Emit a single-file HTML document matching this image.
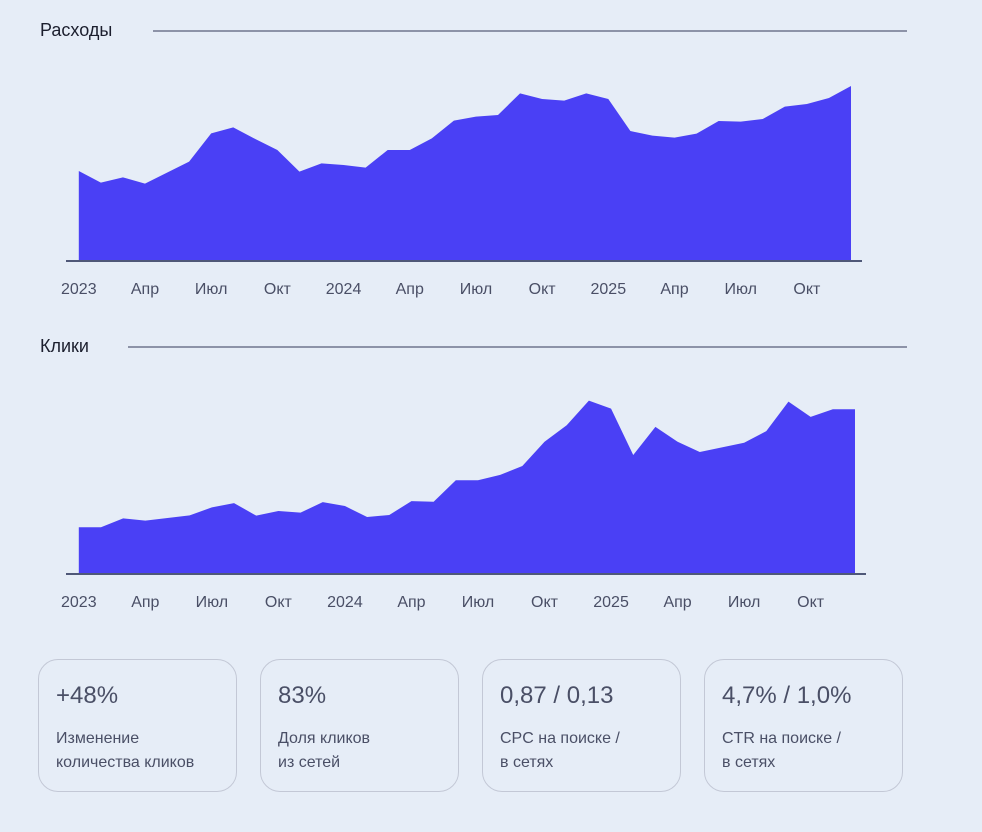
<!DOCTYPE html>
<html><head><meta charset="utf-8"><style>
body{margin:0;width:982px;height:832px;background:#e6edf7;font-family:"Liberation Sans","Noto Sans CJK SC",sans-serif;position:relative;overflow:hidden}
.t{position:absolute;font-size:18px;color:#1c1f2e}
.ln{position:absolute;height:2px;background:#8d93a8}
.card{position:absolute;top:659px;width:199px;height:133px;border:1px solid #c3c8d6;border-radius:20px;box-sizing:border-box;color:#4a4f66}
.big{position:absolute;left:17px;top:22px;font-size:24px}
.sm{position:absolute;left:17px;top:67px;font-size:16px;line-height:24px}
svg{position:absolute;left:0;top:0}
</style></head><body>
<div class="t" style="left:40px;top:20px">Расходы</div>
<div class="ln" style="left:153px;top:30px;width:754px"></div>
<div class="t" style="left:40px;top:336px">Клики</div>
<div class="ln" style="left:128px;top:346px;width:779px"></div>
<svg id="s" width="982" height="640"></svg>
<div class="card" style="left:38px"><div class="big">+48%</div><div class="sm">Изменение<br>количества кликов</div></div>
<div class="card" style="left:260px"><div class="big">83%</div><div class="sm">Доля кликов<br>из сетей</div></div>
<div class="card" style="left:482px"><div class="big">0,87 / 0,13</div><div class="sm">CPC на поиске /<br>в сетях</div></div>
<div class="card" style="left:704px"><div class="big">4,7% / 1,0%</div><div class="sm">CTR на поиске /<br>в сетях</div></div>
<script>
const tickLabels=["2023","Апр","Июл","Окт","2024","Апр","Июл","Окт","2025","Апр","Июл","Окт"];
const spend=[267,232,248,229,262,295,380,398,363,330,265,290,285,277,330,330,365,418,430,435,500,483,478,500,483,387,373,367,379,417,415,423,460,468,486,522];
const clicks=[138,138,165,158,166,174,198,211,173,187,182,214,202,169,175,217,215,280,280,296,323,396,446,520,496,356,441,396,365,379,393,428,517,471,494,494];
const NS="http://www.w3.org/2000/svg";
const svg=document.getElementById('s');
function draw(data,x0,x1,base,h,axX0,axX1,labelY,name){
  const mx=522;
  const xs=i=>x0+(x1-x0)*i/(data.length-1);
  const ys=v=>base-v/mx*h;
  let d=`M${xs(0)},${base}`;
  data.forEach((v,i)=>d+=` L${xs(i)},${ys(v)}`);
  d+=` L${xs(data.length-1)},${base} Z`;
  const p=document.createElementNS(NS,'path');
  p.setAttribute('d',d);p.setAttribute('fill','#4a40f5');
  
  
  svg.appendChild(p);
  const l=document.createElementNS(NS,'line');
  l.setAttribute('x1',axX0);l.setAttribute('x2',axX1);l.setAttribute('y1',base+1);l.setAttribute('y2',base+1);
  l.setAttribute('stroke','#4f5878');l.setAttribute('stroke-width','2');
  
  
  svg.appendChild(l);
  tickLabels.forEach((t,k)=>{
    const tx=document.createElementNS(NS,'text');
    tx.setAttribute('x',xs(k*3));tx.setAttribute('y',labelY);
    tx.setAttribute('text-anchor','middle');tx.setAttribute('font-size','16');tx.setAttribute('fill','#4a4f66');
    tx.textContent=t;
    
    
    svg.appendChild(tx);
  });
}
draw(spend,78.8,851,260,174,66,862,294,'spend');
draw(clicks,78.8,855,573,173,66,866,607,'clicks');
</script>
</body></html>
